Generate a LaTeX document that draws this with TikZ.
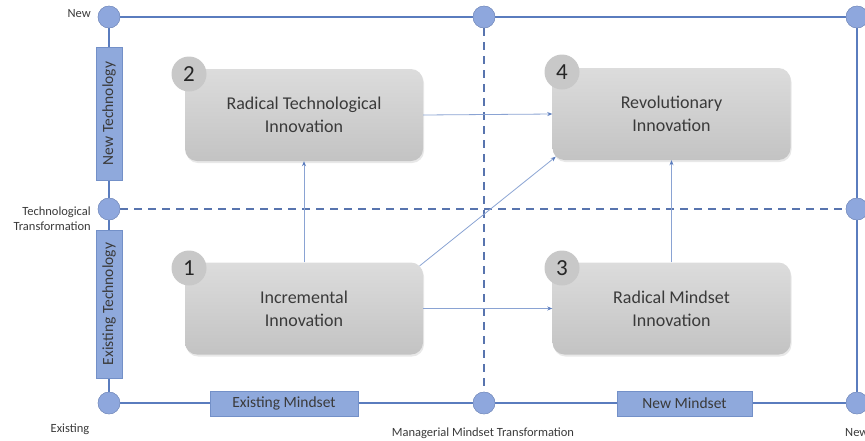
\documentclass[tikz,border=0pt]{standalone}
\usepackage{fontspec}
\setmainfont{Carlito}
\usetikzlibrary{arrows.meta,shadows,calc}
\definecolor{frameblue}{HTML}{5A7CBE}
\definecolor{dashblue}{HTML}{5874AE}
\definecolor{dotfill}{HTML}{8EA7DD}
\definecolor{lblfill}{HTML}{8FA9DC}
\definecolor{lbledge}{HTML}{7390C8}
\definecolor{arrowblue}{HTML}{8AA3D3}
\definecolor{boxtop}{HTML}{DCDCDC}
\definecolor{boxbot}{HTML}{C3C3C3}
\definecolor{numfill}{HTML}{C8C8C8}
\definecolor{txt}{HTML}{3A3A3A}
\tikzset{
  dot/.style={circle, fill=dotfill, draw=dotfill!85!black, line width=0.4pt, minimum size=22pt, inner sep=0pt},
  frameline/.style={draw=frameblue, line width=2pt},
  dashline/.style={draw=dashblue, line width=2.6pt, dash pattern=on 8pt off 6pt},
  lblbox/.style={draw=lbledge, fill=lblfill, line width=0.6pt, inner sep=0pt, font=\fontsize{15.5}{17}\selectfont, text=txt},
  innobox/.style={rounded corners=12pt, top color=boxtop, bottom color=boxbot, draw=none,
    minimum width=238pt, minimum height=92pt, align=center, inner sep=0pt,
    font=\fontsize{18}{23}\selectfont, text=txt,
    drop shadow={shadow xshift=1pt, shadow yshift=-2pt, opacity=0.18}},
  numdot/.style={circle, fill=numfill, minimum size=35pt, inner sep=0pt, font=\fontsize{23}{23}\selectfont, text=black!85},
  smalltxt/.style={font=\fontsize{12.5}{15}\selectfont, text=txt, inner sep=0pt},
  flow/.style={draw=arrowblue, line width=0.8pt, -{Stealth[length=5pt,width=4pt,color=frameblue]}},
}
\begin{document}
\begin{tikzpicture}[x=1pt,y=-1pt]
\useasboundingbox (0,0) rectangle (865,440);
\clip (0,0) rectangle (865,440);
% grid points
\node[dot] (TL) at (109,17) {};
\node[dot] (TM) at (484,17) {};
\node[dot] (TR) at (857,17) {};
\node[dot] (LM) at (109,209) {};
\node[dot] (RM) at (857,209) {};
\node[dot] (BL) at (109,403) {};
\node[dot] (BM) at (484,403) {};
\node[dot] (BR) at (857,403) {};
% lines
\path[frameline] (TL) -- (TM) -- (TR);
\path[frameline] (TL) -- (LM) -- (BL);
\path[frameline] (TR) -- (RM) -- (BR);
\path[frameline] (BL) -- (BM) -- (BR);
\path[dashline] (TM) -- (BM);
\path[dashline] (LM) -- (RM);
% redraw dots on top of the lines
\foreach \p in {TL,TM,TR,LM,RM,BL,BM,BR} {\node[dot] at (\p) {};}
% axis label boxes
\node[lblbox, rotate=90, minimum width=133pt, minimum height=26pt] (newtech) at (109,113.5) {New Technology};
\node[lblbox, rotate=90, minimum width=148pt, minimum height=26pt] (exitech) at (109,304) {Existing Technology};
\node[lblbox, minimum width=148pt, minimum height=25pt] (eximind) at (284,403.5) {Existing Mindset};
\node[lblbox, minimum width=135pt, minimum height=25pt] (newmind) at (684.5,403.5) {New Mindset};
% small labels
\node[smalltxt, anchor=east] (lnew) at (91,14) {New};
\node[smalltxt, anchor=east, align=right] (ltt) at (91,219) {Technological\\Transformation};
\node[smalltxt] (lexi) at (70,429) {Existing};
\node[smalltxt] (lmmt) at (483,433) {Managerial\ Mindset Transformation};
\node[smalltxt, anchor=west] (lnew2) at (845,433) {New};
% innovation boxes
\node[innobox] (b2) at (304,115) {Radical Technological\\Innovation};
\node[innobox] (b4) at (671.5,114) {Revolutionary\\Innovation};
\node[innobox] (b1) at (304,308.5) {Incremental\\Innovation};
\node[innobox] (b3) at (671.5,308.5) {Radical Mindset\\Innovation};
% numbers
\node[numdot] (n2) at (189,74) {2};
\node[numdot] (n4) at (562,72) {4};
\node[numdot] (n1) at (189,268) {1};
\node[numdot] (n3) at (562,268) {3};
% flows
\coordinate (b1ne) at ($(b1.north east)+(-3.5,3.5)$);
\coordinate (b4sw) at ($(b4.south west)+(3.5,-3.5)$);
\draw[flow] (b1.north) -- (b2.south);
\draw[flow] (b2.east) -- (b4.west);
\draw[flow] (b1.east) -- (b3.west);
\draw[flow] (b3.north) -- (b4.south);
\draw[flow] (b1ne) -- (b4sw);
\end{tikzpicture}
\end{document}
